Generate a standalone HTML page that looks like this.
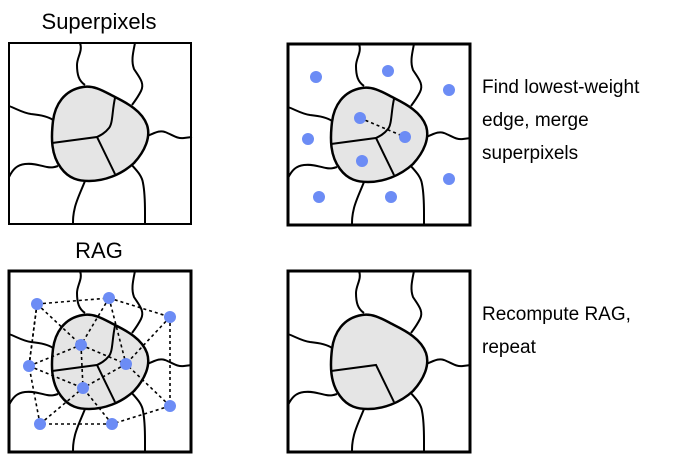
<!DOCTYPE html>
<html><head><meta charset="utf-8"><style>
body{margin:0;background:#fff;width:697px;height:454px;overflow:hidden}
svg{display:block}
text{font-family:"Liberation Sans",sans-serif;font-size:19px;fill:#000}
</style></head><body>
<svg id="svg" width="697" height="454" xmlns="http://www.w3.org/2000/svg">
<text x="99" y="29" text-anchor="middle" style="font-size:22px">Superpixels</text>
<text x="99" y="258" text-anchor="middle" style="font-size:22px">RAG</text>
<g>
<text x="482" y="93">Find lowest-weight</text>
<text x="482" y="126">edge, merge</text>
<text x="482" y="159">superpixels</text>
</g>
<g>
<text x="482" y="320">Recompute RAG,</text>
<text x="482" y="353">repeat</text>
</g>
</svg>
<script>
const panels=[[9,43,'superpixels-panel'],[288,44,'merge-panel'],[9,271,'rag-panel'],[288,271,'recompute-panel']];
const nodesX=[28,100,161,72,20,117,74,31,103,161];
const nodesY=[33,27,46,74,95,93,117,153,153,135];
const edgesA=[0,1,2,9,8,7,4,0,1,1,2,4,4,3,3,5,9,8,7,0];
const edgesB=[1,2,9,8,7,4,0,3,3,5,5,3,6,6,5,6,5,6,6,4];
const NS='http://www.w3.org/2000/svg';
const svg=document.getElementById('svg');
function mk(tag,attrs,parent){const e=document.createElementNS(NS,tag);for(const k in attrs)e.setAttribute(k,attrs[k]);parent.appendChild(e);return e;}
const blob="M74,44 C55,47 46,62 44,78 C42,95 42,112 52,125 C60,136 70,138 80,138 C95,138 112,132 125,120 C136,108 142,94 138,82 C133,68 118,60 106,54 C96,49 86,42 74,44 Z";
const outer=["M71,0 C74,8 68,14 68,22 C68,32 70,38 76,42","M126,0 C124,10 122,18 125,26 C130,34 136,40 132,48 C129,54 126,58 123,62","M0,63 C8,66 14,70 22,71 C32,72 40,74 44,77","M138,93 C146,90 150,87 156,89 C164,92 168,96 175,95 L183,94","M0,134 C4,126 8,122 16,121 C26,120 32,123 38,124 C43,125 46,124 49,123","M76,138 C72,148 68,156 66,164 C64,172 64,176 64,182","M122,121 C126,126 133,132 134,140 C136,150 136,160 136,170 L136,182"];
panels.forEach((p,i)=>{
 const g=mk('g',{transform:`translate(${p[0]},${p[1]})`},svg);
 
 
 outer.forEach(d=>mk('path',{d:d,fill:'none',stroke:'#000','stroke-width':2},g));
 const b=mk('path',{d:blob,fill:'#e5e5e5',stroke:'#000','stroke-width':2.5},g);
 
 
 if(i!==3) mk('path',{d:"M106,55 C103,68 104,80 100,85 C96,90 92,92 88,94",fill:'none',stroke:'#000','stroke-width':2},g);
 mk('path',{d:"M43,100 L88,94 L106,131",fill:'none',stroke:'#000','stroke-width':2},g);
 if(i===2){
  for(let k=0;k<edgesA.length;k++){
   const l=mk('line',{x1:nodesX[edgesA[k]],y1:nodesY[edgesA[k]],x2:nodesX[edgesB[k]],y2:nodesY[edgesB[k]],stroke:'#000','stroke-width':1.6,'stroke-dasharray':'3,3'},g);
   
   
  }
 }
 if(i===1){
  mk('line',{x1:nodesX[3],y1:nodesY[3],x2:nodesX[5],y2:nodesY[5],stroke:'#000','stroke-width':1.6,'stroke-dasharray':'3,3'},g);
 }
 if(i===1||i===2){
  for(let k=0;k<nodesX.length;k++){
   const c=mk('circle',{cx:nodesX[k],cy:nodesY[k],r:6,fill:'#6c8cf5'},g);
   
   
  }
 }
 mk('rect',{x:0,y:0,width:182,height:181,fill:'none',stroke:'#000','stroke-width':i===0?2:3},g);
});
</script>
</body></html>
